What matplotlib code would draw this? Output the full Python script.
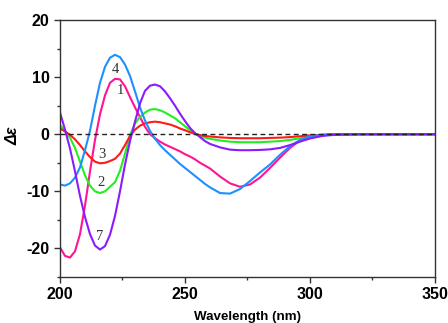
import matplotlib
matplotlib.use('Agg')
import matplotlib.pyplot as plt
from matplotlib.ticker import MultipleLocator

# ---- data ----
wavelength = [200, 202, 204, 206, 208, 210, 212, 214, 216, 218, 220, 222, 224, 226, 228,
              230, 232, 234, 236, 238, 240, 242, 244, 246, 248, 250, 252, 254, 256, 258, 260,
              264, 268, 272, 276, 280, 284, 288, 292, 296, 300, 305, 310, 320, 335, 350]

curve_1 = [-19.8, -21.3, -21.6, -20.5, -17.5, -12.5, -6.5, -1.0, 3.5, 6.8, 9.0, 9.7, 9.6, 8.4, 6.5,
           4.7, 3.0, 1.3, 0.0, -0.7, -1.3, -1.8, -2.2, -2.6, -3.0, -3.5, -3.9, -4.4, -5.0, -5.5, -6.0,
           -7.4, -8.6, -9.2, -8.8, -7.6, -5.9, -4.1, -2.4, -1.1, -0.45, -0.15, -0.05, 0.0, 0.0, 0.0]

curve_2 = [1.6, 0.6, -0.6, -2.4, -4.8, -7.2, -9.0, -10.0, -10.3, -10.0, -9.2, -8.4, -6.4, -3.4, -0.2,
           1.9, 3.0, 3.8, 4.3, 4.4, 4.2, 3.8, 3.3, 2.8, 2.1, 1.4, 0.7, 0.1, -0.3, -0.6, -0.8,
           -1.1, -1.3, -1.4, -1.4, -1.4, -1.3, -1.2, -1.0, -0.7, -0.4, -0.15, -0.05, 0.0, 0.0, 0.0]

curve_3 = [1.0, 0.5, -0.1, -0.9, -1.9, -3.0, -4.0, -4.8, -5.1, -5.0, -4.7, -4.3, -3.4, -1.9, -0.3,
           0.8, 1.5, 1.9, 2.1, 2.2, 2.1, 1.9, 1.7, 1.4, 1.0, 0.7, 0.35, 0.05, -0.15, -0.3, -0.4,
           -0.55, -0.65, -0.7, -0.7, -0.7, -0.65, -0.6, -0.5, -0.35, -0.2, -0.1, 0.0, 0.0, 0.0, 0.0]

curve_4 = [-8.8, -9.0, -8.6, -7.6, -5.8, -2.8, 0.6, 5.0, 9.0, 11.8, 13.4, 13.9, 13.5, 12.2, 10.2,
           7.5, 4.7, 2.4, 0.6, -0.8, -1.9, -2.8, -3.6, -4.4, -5.2, -5.9, -6.6, -7.3, -8.0, -8.7, -9.3,
           -10.3, -10.4, -9.6, -8.2, -6.7, -5.3, -3.6, -2.1, -1.0, -0.35, -0.1, 0.0, 0.0, 0.0, 0.0]

curve_7 = [3.8, 0.8, -2.5, -6.5, -10.8, -14.5, -17.5, -19.5, -20.2, -19.6, -17.6, -14.3, -10.0, -5.3, -1.2,
           2.2, 5.4, 7.6, 8.5, 8.7, 8.4, 7.5, 6.3, 5.0, 3.6, 2.3, 1.1, 0.2, -0.5, -1.2, -1.7,
           -2.3, -2.7, -2.8, -2.8, -2.75, -2.65, -2.4, -1.9, -1.3, -0.75, -0.3, -0.1, 0.0, 0.0, 0.0]

series = [curve_1, curve_2, curve_3, curve_4, curve_7]
colors = ['#FF1493', '#22EE22', '#FF1A1A', '#1E8FFF', '#8B1AFF']

label_texts = ['4', '1', '3', '2', '7']
label_x = [222.1, 224.1, 216.9, 216.3, 215.9]
label_y = [11.35, 7.65, -3.5, -8.5, -17.85]

xlim = (200, 350)
ylim = (-25, 20)

# ---- figure ----
plt.rcParams['font.family'] = ['Liberation Sans', 'DejaVu Sans']
plt.rcParams['font.weight'] = 'bold'
plt.rcParams['axes.unicode_minus'] = False

fig = plt.figure(figsize=(4.48, 3.23), dpi=100)
ax = fig.add_axes([60 / 448, 1 - 277 / 323, 375 / 448, 257 / 323])

for ys, c in zip(series, colors):
    ax.plot(wavelength, ys, color=c, lw=1.5, solid_capstyle='round', zorder=2)

ax.axhline(0, color='#222222', lw=1.0, ls=(0, (3.5, 2.5)), zorder=3)

for t, x, y in zip(label_texts, label_x, label_y):
    ax.text(x, y, t, family='Liberation Serif', fontsize=10.5, fontweight='normal',
            ha='center', va='center', color='#333333', zorder=4)

ax.set_xlim(*xlim)
ax.set_ylim(*ylim)
ax.xaxis.set_major_locator(MultipleLocator(50))
ax.xaxis.set_minor_locator(MultipleLocator(25))
ax.yaxis.set_major_locator(MultipleLocator(10))
ax.yaxis.set_minor_locator(MultipleLocator(5))

ax.tick_params(which='major', length=4.5, width=1.0, direction='out', labelsize=11.5,
               pad=3, color='#333333')
ax.tick_params(which='minor', length=2.5, width=1.0, direction='out', color='#333333')
for lab in ax.get_xticklabels() + ax.get_yticklabels():
    lab.set_fontweight('bold')

for sp in ax.spines.values():
    sp.set_linewidth(1.0)
    sp.set_color('#333333')

ax.set_xlabel('Wavelength (nm)', fontsize=9.6, fontweight='bold', va='top')
ax.xaxis.set_label_coords(0.5, -(311 - 277) / 257)
ax.set_ylabel('Δε', fontsize=11.5, fontweight='bold', fontstyle='italic')
ax.yaxis.set_label_coords(-0.105, 0.55)

fig.savefig('out.png', dpi=100)
